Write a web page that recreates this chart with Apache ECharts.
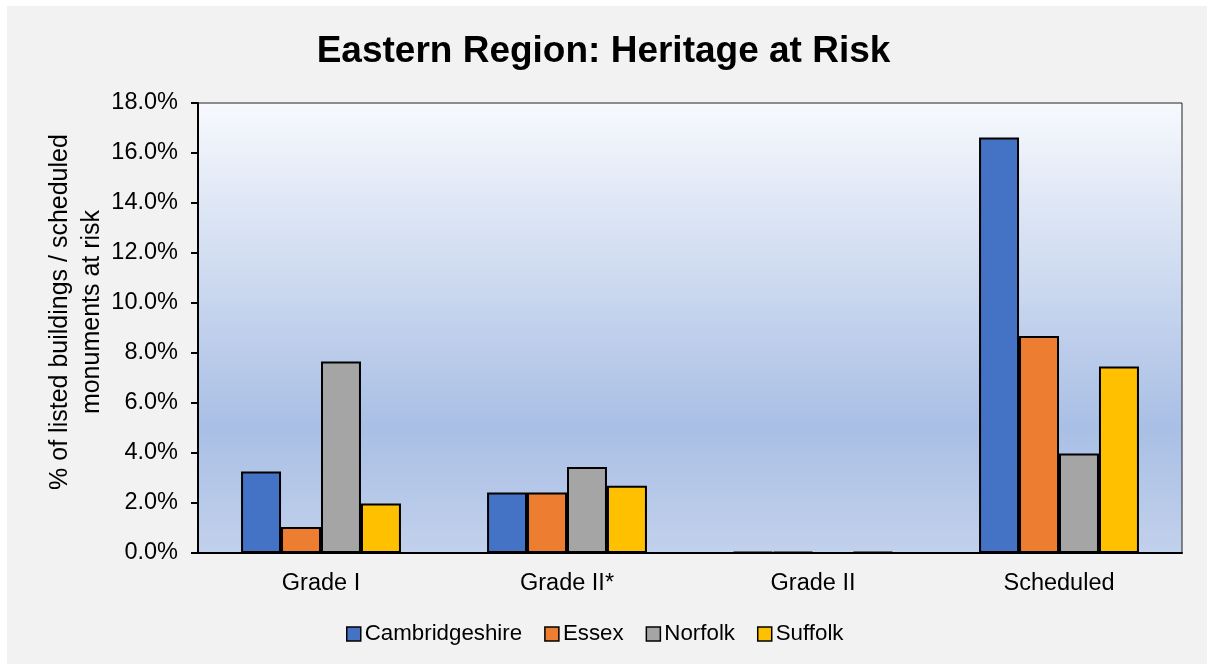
<!DOCTYPE html>
<html>
<head>
<meta charset="utf-8">
<script src="https://cdn.jsdelivr.net/npm/echarts@6/dist/echarts.min.js"></script>
<style>
html,body{margin:0;padding:0;background:#fff;}
#c{width:1207px;height:664px;}
</style>
</head>
<body>
<div id="c"></div>
<script>
const categories = ['Grade I', 'Grade II*', 'Grade II', 'Scheduled'];
const cambridgeshire = [3.26, 2.42, 0.04, 16.62];
const essex = [1.04, 2.42, 0.04, 8.68];
const norfolk = [7.66, 3.44, 0.0, 3.98];
const suffolk = [1.98, 2.69, 0.04, 7.46];
const yTicks = [0, 2, 4, 6, 8, 10, 12, 14, 16, 18];
const yAxisTitle = '% of listed buildings / scheduled\nmonuments at risk';

const font = '"Liberation Sans", Arial, sans-serif';
const chart = echarts.init(document.getElementById('c'), null, {renderer: 'canvas'});
const barStyle = (c) => ({color: c, borderColor: '#000', borderWidth: 2});
chart.setOption({
  animation: false,
  graphic: [{
    type: 'rect', left: 7, top: 6, z: -10,
    shape: {width: 1200, height: 658},
    style: {fill: '#f2f2f2'}
  }, {
    type: 'text', x: 76, y: 312, rotation: Math.PI / 2, z: 10,
    style: {
      text: yAxisTitle, fill: '#000',
      font: '25px "Liberation Sans", Arial, sans-serif',
      lineHeight: 32, align: 'center', verticalAlign: 'middle'
    }
  }],
  title: {
    text: 'Eastern Region: Heritage at Risk',
    left: 'center', top: 28,
    textStyle: {fontFamily: font, fontSize: 37, fontWeight: 'bold', color: '#000'}
  },
  legend: {
    bottom: 14, left: 341,
    itemWidth: 14, itemHeight: 14, itemGap: 22,
    icon: 'rect',
    itemStyle: {borderColor: '#000', borderWidth: 1.5},
    textStyle: {fontFamily: font, fontSize: 22.3, color: '#000', padding: [0, 0, 0, -1]},
    data: ['Cambridgeshire', 'Essex', 'Norfolk', 'Suffolk']
  },
  grid: {
    left: 198, right: 25, top: 103, bottom: 111,
    show: true,
    borderColor: '#222', borderWidth: 1,
    backgroundColor: {
      type: 'linear', x: 0, y: 0, x2: 0, y2: 1,
      colorStops: [
        {offset: 0, color: '#f7f9fd'},
        {offset: 0.72, color: '#a9bfe5'},
        {offset: 1, color: '#c2d1ec'}
      ]
    }
  },
  xAxis: {
    type: 'category', data: categories,
    axisLine: {lineStyle: {color: '#000', width: 2}},
    axisTick: {show: false},
    axisLabel: {fontFamily: font, fontSize: 23.5, color: '#000', margin: 19}
  },
  yAxis: {
    type: 'value', min: 0, max: 18, interval: 2,
    axisLine: {show: true, lineStyle: {color: '#000', width: 2}},
    axisTick: {show: true, length: 7, lineStyle: {color: '#000', width: 2}},
    splitLine: {show: false},
    axisLabel: {
      fontFamily: font, fontSize: 23.5, color: '#000', margin: 20,
      formatter: (v) => yTicks.includes(v) ? v.toFixed(1) + '%' : ''
    }
  },
  series: [
    {name: 'Cambridgeshire', type: 'bar', data: cambridgeshire, barGap: '0%', barCategoryGap: '35%', itemStyle: barStyle('#4472c4')},
    {name: 'Essex', type: 'bar', data: essex, itemStyle: barStyle('#ed7d31')},
    {name: 'Norfolk', type: 'bar', data: norfolk, itemStyle: barStyle('#a5a5a5')},
    {name: 'Suffolk', type: 'bar', data: suffolk, itemStyle: barStyle('#ffc000')}
  ]
});
</script>
</body>
</html>
